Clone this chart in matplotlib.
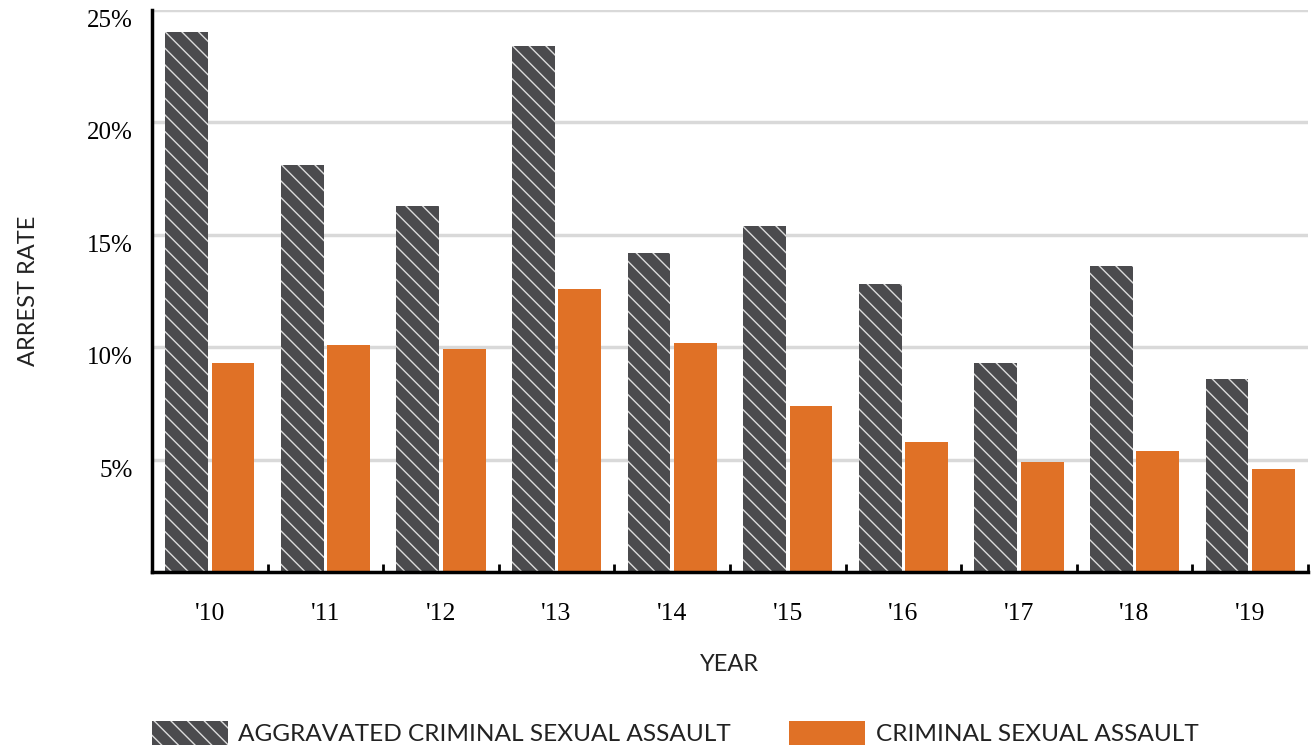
import numpy as np
import matplotlib
matplotlib.use("Agg")
import matplotlib.pyplot as plt

years = ["'10", "'11", "'12", "'13", "'14", "'15", "'16", "'17", "'18", "'19"]
aggravated = [24.0, 18.1, 16.3, 23.4, 14.2, 15.4, 12.8, 9.3, 13.6, 8.6]
criminal = [9.3, 10.1, 9.9, 12.6, 10.2, 7.4, 5.8, 4.9, 5.4, 4.6]
yticks = [5, 10, 15, 20, 25]

dark = '#4b4b4e'
orange = '#e07126'
plt.rcParams['hatch.color'] = '#dcdcdc'
plt.rcParams['hatch.linewidth'] = 1.0

fig = plt.figure(figsize=(13.13, 7.46), dpi=100)
ax = fig.add_axes([152/1313, 1-572/746, 1156/1313, 562/746])

x = np.arange(len(years))
w = 0.37
ax.bar(x-0.2, aggravated, w, color=dark, hatch='\\\\', linewidth=0,
       label='AGGRAVATED CRIMINAL SEXUAL ASSAULT', zorder=3)
ax.bar(x+0.2, criminal, w, color=orange, linewidth=0,
       label='CRIMINAL SEXUAL ASSAULT', zorder=3)

ax.set_xlim(-0.5, len(years)-0.5)
ax.set_ylim(0, 25)

# grid
ax.set_yticks(yticks)
ax.set_yticklabels([f'{v}%' for v in yticks], family='Liberation Serif', fontsize=18)
for lab in ax.get_yticklabels():
    lab.set_va('top')
ax.tick_params(axis='y', length=0, pad=14)
ax.yaxis.grid(True, color='#d9d9d9', linewidth=2.5, zorder=0)

ax.set_xticks(x)
ax.set_xticklabels(years, family='Liberation Serif', fontsize=18.5)
ax.set_xticks(np.arange(len(years)+1)-0.5, minor=True)
ax.tick_params(axis='x', which='major', length=0, pad=22)
ax.tick_params(axis='x', which='minor', direction='in', length=6, width=2, color='black')

for s in ['top', 'right']:
    ax.spines[s].set_visible(False)
for s in ['left', 'bottom']:
    ax.spines[s].set_linewidth(2.5)
    ax.spines[s].set_zorder(4)

ax.set_xlabel('YEAR', family='Lato', fontsize=17, color='#222222', labelpad=21)
ax.set_ylabel('ARREST RATE', family='Lato', fontsize=17, color='#222222', labelpad=34)

fig.legend(loc='upper left', bbox_to_anchor=(152/1313, 1-721/746), ncol=2,
           frameon=False, prop={'family': 'Lato', 'size': 17.6},
           labelcolor='#222222',
           handlelength=3.1, handleheight=1.15, handletextpad=0.42,
           columnspacing=2.4, borderaxespad=0, borderpad=0)

fig.savefig('out.png', dpi=100)
